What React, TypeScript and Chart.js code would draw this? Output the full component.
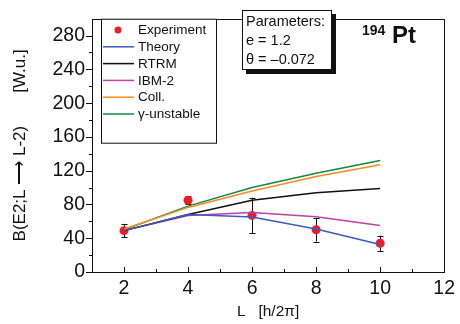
import React, { useEffect, useRef } from "react";
import { Chart, registerables } from "chart.js";
Chart.register(...registerables);

const L_VALUES = [2, 4, 6, 8, 10];
const EXPERIMENT = [49, 85, 67, 50, 34];
const EXPERIMENT_ERR = [8, 5, 21, 14, 9];
const THEORY = [49, 68, 65, 51, 32.5];
const RTRM = [49, 68, 85, 94, 99];
const IBM2 = [49, 67, 70.5, 65.5, 55];
const COLL = [51, 76.5, 96, 113, 127];
const GAMMA_UNSTABLE = [50, 78, 100, 117, 132];
const X_MINOR = [3, 5, 7, 9, 11];
const Y_MINOR = [20, 60, 100, 140, 180, 220, 260];
const SERIES_NAMES = ["Experiment", "Theory", "RTRM", "IBM-2", "Coll.", "γ-unstable"];
const PARAM_LINES = ["Parameters:", "e = 1.2", "θ = –0.072"];

const COLORS = {
  exp: "#ee1c24",
  theory: "#3b5bbf",
  rtrm: "#111111",
  ibm: "#c23fa4",
  coll: "#ff8a1e",
  gamma: "#0e8a45",
};

const FONT = "'Liberation Sans', Arial, Helvetica, sans-serif";

const toPts = (ys: number[]) => L_VALUES.map((x, i) => ({ x, y: ys[i] }));

const decorPlugin = {
  id: "decor",
  beforeDatasetsDraw(chart: any) {
    const { ctx } = chart;
    const xs = chart.scales.x;
    const ys = chart.scales.y;
    ctx.save();
    ctx.strokeStyle = "#111";
    ctx.lineWidth = 1;
    L_VALUES.forEach((l, i) => {
      const px = Math.round(xs.getPixelForValue(l)) + 0.5;
      const top = ys.getPixelForValue(EXPERIMENT[i] + EXPERIMENT_ERR[i]);
      const bot = ys.getPixelForValue(EXPERIMENT[i] - EXPERIMENT_ERR[i]);
      ctx.beginPath();
      ctx.moveTo(px, top);
      ctx.lineTo(px, bot);
      ctx.moveTo(px - 3, Math.round(top) + 0.5);
      ctx.lineTo(px + 3, Math.round(top) + 0.5);
      ctx.moveTo(px - 3, Math.round(bot) + 0.5);
      ctx.lineTo(px + 3, Math.round(bot) + 0.5);
      ctx.stroke();
    });
    ctx.restore();
  },
  afterDraw(chart: any) {
    const { ctx, chartArea: a } = chart;
    const xs = chart.scales.x;
    const ys = chart.scales.y;
    ctx.save();
    ctx.strokeStyle = "#111";
    ctx.lineWidth = 1;
    // frame
    ctx.strokeRect(Math.round(a.left) + 0.5, Math.round(a.top) + 0.5, Math.round(a.right - a.left), Math.round(a.bottom - a.top));
    ctx.beginPath();
    // y ticks (outside)
    ys.ticks.forEach((t: any) => {
      const py = Math.round(ys.getPixelForValue(t.value)) + 0.5;
      ctx.moveTo(a.left - 6, py);
      ctx.lineTo(a.left, py);
    });
    Y_MINOR.forEach((v) => {
      const py = Math.round(ys.getPixelForValue(v)) + 0.5;
      ctx.moveTo(a.left - 3, py);
      ctx.lineTo(a.left, py);
    });
    // x ticks (inside)
    xs.ticks.forEach((t: any) => {
      const px = Math.round(xs.getPixelForValue(t.value)) + 0.5;
      ctx.moveTo(px, a.bottom);
      ctx.lineTo(px, a.bottom - 5);
    });
    X_MINOR.forEach((v) => {
      const px = Math.round(xs.getPixelForValue(v)) + 0.5;
      ctx.moveTo(px, a.bottom);
      ctx.lineTo(px, a.bottom - 3);
    });
    ctx.stroke();

    // legend box
    const lx = a.left + 9.5;
    const ly = a.top + 0.5;
    const lw = 115;
    const lh = 124;
    ctx.fillStyle = "#fff";
    ctx.fillRect(lx, ly, lw, lh);
    ctx.strokeRect(lx, ly, lw, lh);
    const colors = [COLORS.exp, COLORS.theory, COLORS.rtrm, COLORS.ibm, COLORS.coll, COLORS.gamma];
    ctx.font = `13.5px ${FONT}`;
    ctx.textBaseline = "middle";
    ctx.textAlign = "left";
    SERIES_NAMES.forEach((name, i) => {
      const cy = 30 + i * 16.8;
      if (i === 0) {
        ctx.fillStyle = colors[0];
        ctx.beginPath();
        ctx.arc(118, cy, 3.5, 0, Math.PI * 2);
        ctx.fill();
      } else {
        ctx.strokeStyle = colors[i];
        ctx.lineWidth = 1.5;
        ctx.beginPath();
        ctx.moveTo(103, cy);
        ctx.lineTo(134, cy);
        ctx.stroke();
      }
      ctx.fillStyle = "#111";
      ctx.fillText(name, 138, cy + 0.5);
    });

    // parameters box with shadow
    ctx.fillStyle = "#111";
    ctx.fillRect(246, 14, 90, 60);
    ctx.fillStyle = "#fff";
    ctx.fillRect(242, 10, 90, 60);
    ctx.strokeStyle = "#111";
    ctx.lineWidth = 1;
    ctx.strokeRect(242.5, 10.5, 89, 59);
    ctx.fillStyle = "#111";
    ctx.font = `14.5px ${FONT}`;
    ctx.textBaseline = "alphabetic";
    PARAM_LINES.forEach((t, i) => {
      ctx.fillText(t, 246, 26 + i * 19);
    });

    // isotope label
    ctx.font = `bold 14px ${FONT}`;
    ctx.fillText("194", 362, 34.5);
    ctx.font = `bold 24px ${FONT}`;
    ctx.fillText("Pt", 392, 43);
    ctx.restore();
  },
};

export default function App() {
  const ref = useRef<HTMLCanvasElement>(null);
  useEffect(() => {
    if (!ref.current) return;
    const lineDs = (label: string, data: number[], color: string) => ({
      label,
      data: toPts(data),
      borderColor: color,
      backgroundColor: color,
      borderWidth: 1.5,
      pointRadius: 0,
      tension: 0,
      fill: false,
    });
    const chart = new Chart(ref.current, {
      type: "line",
      data: {
        datasets: [
          lineDs("Theory", THEORY, COLORS.theory),
          lineDs("RTRM", RTRM, COLORS.rtrm),
          lineDs("IBM-2", IBM2, COLORS.ibm),
          lineDs("Coll.", COLL, COLORS.coll),
          lineDs("γ-unstable", GAMMA_UNSTABLE, COLORS.gamma),
          {
            label: "Experiment",
            data: toPts(EXPERIMENT),
            showLine: false,
            borderColor: COLORS.exp,
            backgroundColor: COLORS.exp,
            pointRadius: 4.5,
            pointBorderWidth: 0,
          } as any,
        ],
      },
      options: {
        animation: false,
        responsive: false,
        events: [],
        layout: { padding: { top: 7, right: 12, left: 0, bottom: 0 } },
        plugins: { legend: { display: false }, tooltip: { enabled: false } },
        scales: {
          x: {
            type: "linear",
            min: 1,
            max: 12,
            ticks: {
              stepSize: 2,
              includeBounds: false,
              color: "#111",
              font: { family: FONT, size: 19.5 },
              padding: 5,
              maxRotation: 0,
            },
            grid: { display: true, drawOnChartArea: false, drawTicks: false },
            border: { display: false },
            title: {
              display: true,
              text: "L   [h/2π]",
              color: "#111",
              font: { family: FONT, size: 15.5 },
              padding: { top: 0, bottom: 3 },
            },
            afterFit: (s: any) => {
              s.height = 52;
            },
          },
          y: {
            type: "linear",
            min: 0,
            max: 300,
            ticks: {
              stepSize: 40,
              includeBounds: false,
              color: "#111",
              font: { family: FONT, size: 19.5 },
              padding: 7,
            },
            grid: { display: true, drawOnChartArea: false, drawTicks: false },
            border: { display: false },
            title: {
              display: true,
              text: "B(E2;L ⟶ L-2)       [W.u.]",
              color: "#111",
              font: { family: FONT, size: 17 },
              padding: { top: 10, bottom: 0 },
            },
            afterFit: (s: any) => {
              s.width = 92;
            },
          },
        },
      },
      plugins: [decorPlugin],
    } as any);
    return () => chart.destroy();
  }, []);
  return (
    <div style={{ position: "fixed", left: 0, top: 0, width: 460, height: 324, background: "#fff" }}>
      <canvas ref={ref} width={460} height={324} />
    </div>
  );
}
